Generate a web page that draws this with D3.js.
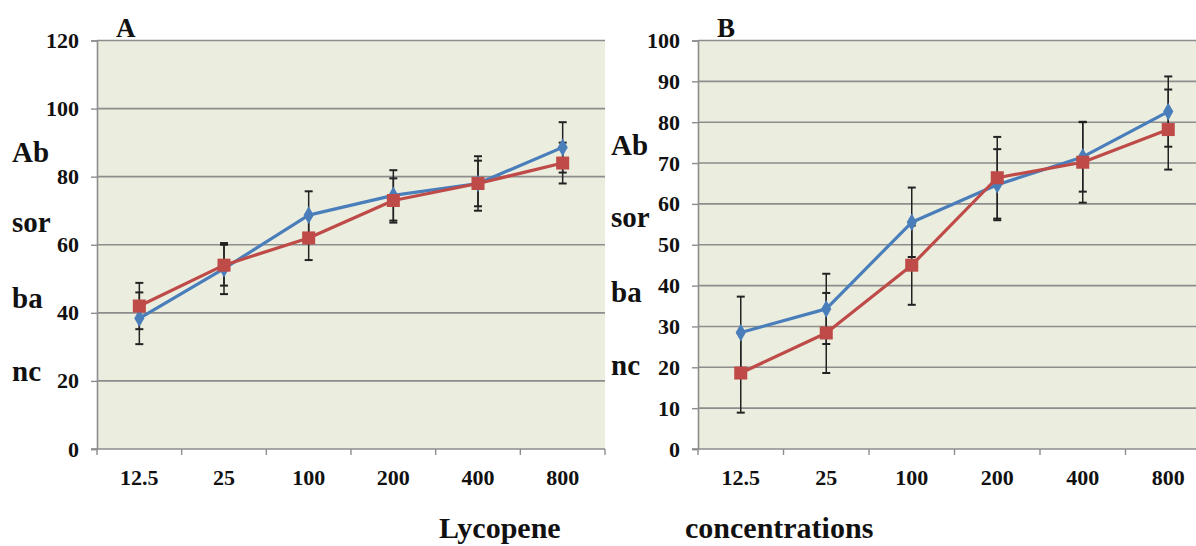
<!DOCTYPE html>
<html>
<head>
<meta charset="utf-8">
<script src="https://cdn.jsdelivr.net/npm/d3@7"></script>
<style>
  body { margin: 0; background: #fff; }
  svg text { font-family: "Liberation Serif", "Times New Roman", serif; font-weight: bold; fill: #111; }
</style>
</head>
<body>
<div id="chart"></div>
<script>
// categories (lycopene concentrations)
const categories = ["12.5", "25", "100", "200", "400", "800"]

// panel A values and error
const aBlue = [38.4, 53, 68.7, 74.5, 78, 88.6]
const aBlueErr = [7.6, 7.5, 7, 7.4, 8, 7.4]
const aRed = [42, 54, 62, 73, 78, 84]
const aRedErr = [6.8, 6, 6.5, 6.5, 6.7, 6]

// panel B values and error
const bBlue = [28.5, 34.3, 55.5, 64.7, 71.5, 82.6]
const bBlueErr = [8.8, 8.6, 8.5, 8.7, 8.5, 8.6]
const bRed = [18.6, 28.4, 45, 66.4, 70.2, 78.2]
const bRedErr = [9.7, 9.8, 9.7, 10, 9.9, 9.8]

const aTicks = [0, 20, 40, 60, 80, 100, 120]
const bTicks = [0, 10, 20, 30, 40, 50, 60, 70, 80, 90, 100]
const yWords = ["Ab", "sor", "ba", "nc"]

const width = 1196
const height = 546

const svg = d3.select("#chart").append("svg")
    .attr("width", width)
    .attr("height", height)

const blue = "#4a7ebb"
const red = "#be4b48"

function drawPanel(opts) {
    const x = d3.scaleBand()
        .domain(categories)
        .range([opts.left, opts.right])
        .padding(0)
    const y = d3.scaleLinear()
        .domain([0, opts.max])
        .range([449, 40.5])

    const g = svg.append("g")

    // plot background
    g.append("rect")
        .attr("x", opts.left)
        .attr("y", y(opts.max))
        .attr("width", opts.right - opts.left)
        .attr("height", y(0) - y(opts.max))
        .attr("fill", "#ebeedf")

    // gridlines
    g.selectAll(".grid")
        .data(opts.ticks.filter(d => d > 0))
        .enter()
        .append("line")
            .attr("x1", opts.left)
            .attr("x2", opts.right)
            .attr("y1", d => y(d))
            .attr("y2", d => y(d))
            .attr("stroke", "#8d8d8d")
            .attr("stroke-width", 1.6)

    // y axis
    const yAxis = g.append("g")
        .attr("transform", `translate(${opts.left},0)`)
        .call(d3.axisLeft(y).tickValues(opts.ticks).tickSize(6).tickPadding(12))
    yAxis.select(".domain").attr("stroke", "#8d8d8d").attr("stroke-width", 1.6)
    yAxis.selectAll(".tick line").attr("stroke", "#8d8d8d").attr("stroke-width", 1.4)
    yAxis.selectAll(".tick text")
        .style("font-size", "22px")
        .attr("fill", "#111")

    // x axis with ticks at category boundaries
    const xAxis = g.append("g")
        .attr("transform", `translate(0,${y(0)})`)
    xAxis.append("line")
        .attr("x1", opts.left - 6)
        .attr("x2", opts.right)
        .attr("stroke", "#8d8d8d")
        .attr("stroke-width", 1.6)
    const bounds = categories.map(c => x(c)).concat([x(categories[categories.length - 1]) + x.bandwidth()])
    xAxis.selectAll(".xt")
        .data(bounds)
        .enter()
        .append("line")
            .attr("x1", d => d)
            .attr("x2", d => d)
            .attr("y1", 0)
            .attr("y2", 6)
            .attr("stroke", "#8d8d8d")
            .attr("stroke-width", 1.4)
    xAxis.selectAll(".xl")
        .data(categories)
        .enter()
        .append("text")
            .attr("x", d => x(d) + x.bandwidth() / 2)
            .attr("y", 36)
            .attr("text-anchor", "middle")
            .style("font-size", "22px")
            .text(d => d)

    const cx = d => x(d) + x.bandwidth() / 2

    // error bars
    const series = [
        { vals: opts.blue, err: opts.blueErr, color: blue, shape: d3.symbolDiamond, size: 90 },
        { vals: opts.red, err: opts.redErr, color: red, shape: d3.symbolSquare, size: 170 }
    ]
    series.forEach(s => {
        const eb = g.append("g")
        categories.forEach((c, i) => {
            const lo = y(s.vals[i] - s.err[i])
            const hi = y(s.vals[i] + s.err[i])
            eb.append("line")
                .attr("x1", cx(c)).attr("x2", cx(c))
                .attr("y1", lo).attr("y2", hi)
                .attr("stroke", "#222").attr("stroke-width", 1.5)
            ;[lo, hi].forEach(yy => {
                eb.append("line")
                    .attr("x1", cx(c) - 4).attr("x2", cx(c) + 4)
                    .attr("y1", yy).attr("y2", yy)
                    .attr("stroke", "#222").attr("stroke-width", 2)
            })
        })
    })

    // lines and markers
    series.forEach(s => {
        const line = d3.line()
            .x((d, i) => cx(categories[i]))
            .y(d => y(d))
        g.append("path")
            .datum(s.vals)
            .attr("d", line)
            .attr("fill", "none")
            .attr("stroke", s.color)
            .attr("stroke-width", 3.2)
            .attr("stroke-linejoin", "round")
        g.selectAll(null)
            .data(s.vals)
            .enter()
            .append("path")
                .attr("d", d3.symbol().type(s.shape).size(s.size))
                .attr("transform", (d, i) => `translate(${cx(categories[i])},${y(d)})`)
                .attr("fill", s.color)
    })

    // panel letter
    g.append("text")
        .attr("x", opts.left + 19)
        .attr("y", 37)
        .style("font-size", "27px")
        .text(opts.letter)

    // vertical y-axis words
    yWords.forEach((w, i) => {
        g.append("text")
            .attr("x", opts.wordX)
            .attr("y", opts.wordY[i])
            .style("font-size", "29px")
            .text(w)
    })
}

drawPanel({
    left: 97, right: 605, max: 120, ticks: aTicks, letter: "A",
    wordX: 12, wordY: [162, 232, 308, 381],
    blue: aBlue, blueErr: aBlueErr, red: aRed, redErr: aRedErr
})

drawPanel({
    left: 698, right: 1211, max: 100, ticks: bTicks, letter: "B",
    wordX: 611, wordY: [155, 227, 302, 375],
    blue: bBlue, blueErr: bBlueErr, red: bRed, redErr: bRedErr
})

// x axis title, split across the two panels
svg.append("text")
    .attr("x", 439)
    .attr("y", 538)
    .style("font-size", "30px")
    .text("Lycopene")
svg.append("text")
    .attr("x", 685)
    .attr("y", 538)
    .style("font-size", "30px")
    .text("concentrations")
</script>
</body>
</html>
